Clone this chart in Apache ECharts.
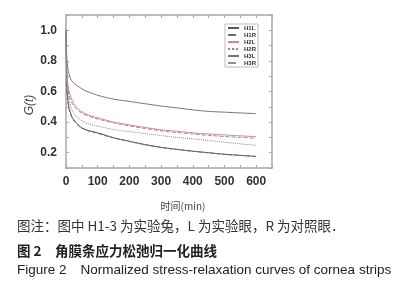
<!DOCTYPE html>
<html><head><meta charset="utf-8">
<script src="https://cdn.jsdelivr.net/npm/echarts@6/dist/echarts.min.js"></script>
<style>html,body{margin:0;padding:0;background:#fff}#c{width:409px;height:300px}</style>
</head><body><div id="c"></div>
<script>
const times = [0,2,5,10,15,20,30,45,60,80,100,150,200,250,300,350,400,450,500,550,600];
const seriesNames = ['H1L','H1R','H2L','H2R','H3L','H3R'];
const H1L = [1.0,0.70,0.56,0.49,0.455,0.43,0.40,0.37,0.352,0.34,0.33,0.298,0.275,0.253,0.235,0.222,0.21,0.20,0.19,0.183,0.176];
const H1R = [1.0,0.69,0.55,0.48,0.45,0.425,0.395,0.366,0.35,0.337,0.326,0.296,0.273,0.252,0.234,0.221,0.209,0.199,0.189,0.182,0.175];
const H2L = [1.0,0.78,0.66,0.60,0.565,0.54,0.505,0.475,0.455,0.44,0.428,0.40,0.382,0.365,0.35,0.34,0.33,0.322,0.316,0.31,0.305];
const H2R = [1.0,0.74,0.61,0.54,0.50,0.475,0.445,0.415,0.398,0.383,0.373,0.352,0.338,0.325,0.312,0.30,0.29,0.28,0.268,0.258,0.248];
const H3L = [1.0,0.85,0.76,0.71,0.68,0.665,0.645,0.625,0.605,0.59,0.575,0.55,0.535,0.52,0.505,0.493,0.48,0.47,0.465,0.46,0.455];
const H3R = [1.0,0.75,0.63,0.57,0.54,0.52,0.49,0.465,0.448,0.432,0.42,0.395,0.375,0.358,0.343,0.332,0.322,0.313,0.306,0.30,0.295];
const xLabels = [0,100,200,300,400,500,600];
const yLabels = [0.2,0.4,0.6,0.8,1.0];
const xTicks = [0,50,100,150,200,250,300,350,400,450,500,550,600,650];
const yTicks = [0.1,0.2,0.3,0.4,0.5,0.6,0.7,0.8,0.9,1.0,1.1];

const values = [H1L,H1R,H2L,H2R,H3L,H3R];
const colors = ['#55555f','#6a6a72','#d9868c','#8a8a92','#7a7288','#9a8a95'];
const types = ['solid','dashed','solid','dotted','solid','dashed'];

const chart = echarts.init(document.getElementById('c'));
const frame = '#a8a8a8';
const axBase = (pos, isX, show) => ({
  type:'value', position:pos, gridIndex:0,
  min: isX ? 0 : 0.1, max: isX ? 650 : 1.1,
  axisLine:{show:true, onZero:false, lineStyle:{color:frame, width:1.5}},
  axisTick:{show:true, inside:true, length:3, lineStyle:{color:frame}, customValues: isX ? xTicks : yTicks},
  axisLabel:{show:show, color:'#333', fontSize:12, fontFamily:'Liberation Sans, Arial', fontWeight:'bold',
    margin: isX ? 8 : 9,
    customValues: isX ? xLabels : yLabels,
    formatter: v => isX ? String(v) : Number(v).toFixed(1)},
  splitLine:{show:false}
});
const xa = axBase('bottom', true, true);
xa.name = '时间(min)'; xa.nameLocation='middle'; xa.nameGap=33;
xa.nameTextStyle = {color:'#444', fontSize:10, fontFamily:'Noto Sans CJK SC', padding:[0,0,0,28]};
const ya = axBase('left', false, true);

chart.setOption({
  animation:false,
  grid:{left:66, right:137, top:15, bottom:132},
  xAxis:[xa, axBase('top', true, false)],
  yAxis:[ya, axBase('right', false, false)],
  legend:{
    right:151, top:24, orient:'vertical', itemWidth:11, itemHeight:2, itemGap:1,
    padding:[1,2,1,2], borderColor:'#bbb', borderWidth:1, backgroundColor:'#fff',
    textStyle:{fontSize:6, color:'#333', fontFamily:'Liberation Sans, Arial', fontWeight:'bold'},
    data: seriesNames
  },
  series: seriesNames.map((n,i)=>({
    name:n, type:'line', xAxisIndex:0, yAxisIndex:0, symbol:'none', smooth:0.3,
    lineStyle:{color:colors[i], width:1, type:types[i]}, itemStyle:{color:colors[i]},
    data: times.map((t,k)=>[t, values[i][k]])
  })),
  graphic:[
    {type:'text', x:30, y:105, rotation:Math.PI/2, style:{text:'G(t)', fill:'#444', font:'italic 12px "Liberation Sans", Arial', align:'center', verticalAlign:'middle'}},
    {type:'text', left:17, top:219, style:{text:'图注：图中 H1-3 为实验兔，L 为实验眼，R 为对照眼．', fill:'#333', font:'13.5px "Noto Sans CJK SC"'}},
    {type:'text', left:17, top:244, style:{text:'图 2　角膜条应力松弛归一化曲线', fill:'#222', font:'bold 13.5px "Noto Sans CJK SC"'}},
    {type:'text', left:17, top:263, style:{text:'Figure 2　Normalized stress-relaxation curves of cornea strips', fill:'#222', font:'13.5px "Liberation Sans", Arial'}}
  ]
});
</script></body></html>
